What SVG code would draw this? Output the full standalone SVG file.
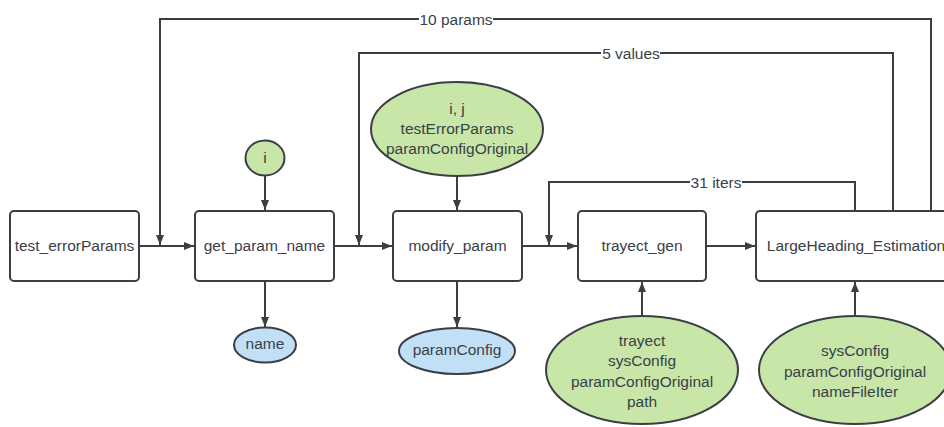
<svg xmlns="http://www.w3.org/2000/svg" width="944" height="427" viewBox="0 0 944 427">
<style>
.box{fill:#ffffff;stroke:#3b3f45;stroke-width:2}
.green{fill:#c7e6a7;stroke:#3b3f45;stroke-width:2}
.blue{fill:#c1e0f6;stroke:#3b3f45;stroke-width:2}
.t{font-family:"Liberation Sans",Arial,sans-serif;font-size:15.5px;fill:#3a404a;text-anchor:middle;dominant-baseline:central}
.c{fill:none;stroke:#3b3f45;stroke-width:2}
.lbl{fill:#ffffff}
</style>
<defs>
<marker id="ah" viewBox="0 0 10 10" refX="10" refY="5" markerWidth="10" markerHeight="10" markerUnits="userSpaceOnUse" orient="auto">
<path d="M0,1 L10,5 L0,9 Z" fill="#3b3f45"/>
</marker>
</defs>
<rect width="944" height="427" fill="#ffffff"/>
<g id="connectors">
<path class="c" d="M931,211 V19 H160 V245" marker-end="url(#ah)"/>
<path class="c" d="M893,211 V53 H359 V245" marker-end="url(#ah)"/>
<path class="c" d="M855,211 V182 H549 V245" marker-end="url(#ah)"/>
<path class="c" d="M139,246 H194" marker-end="url(#ah)"/>
<path class="c" d="M334,246 H392" marker-end="url(#ah)"/>
<path class="c" d="M522,246 H577" marker-end="url(#ah)"/>
<path class="c" d="M706,246 H755" marker-end="url(#ah)"/>
<path class="c" d="M265,176 V210" marker-end="url(#ah)"/>
<path class="c" d="M457,176 V210" marker-end="url(#ah)"/>
<path class="c" d="M265,281 V327" marker-end="url(#ah)"/>
<path class="c" d="M457,281 V327" marker-end="url(#ah)"/>
<path class="c" d="M642,316 V282" marker-end="url(#ah)"/>
<path class="c" d="M855,316 V282" marker-end="url(#ah)"/>
<rect class="lbl" x="419" y="10" width="74" height="18"/>
<text class="t" x="456" y="19">10 params</text>
<rect class="lbl" x="601" y="44" width="59" height="18"/>
<text class="t" x="631" y="53">5 values</text>
<rect class="lbl" x="690" y="173" width="52" height="18"/>
<text class="t" x="716" y="182">31 iters</text>
</g>
<g id="test_errorParams">
<rect class="box" x="10" y="211" width="129" height="70" rx="4"/>
<text class="t" x="74.5" y="245">test_errorParams</text>
</g>
<g id="get_param_name">
<rect class="box" x="195" y="211" width="139" height="70" rx="4"/>
<text class="t" x="264.5" y="245">get_param_name</text>
</g>
<g id="modify_param">
<rect class="box" x="393" y="211" width="129" height="70" rx="4"/>
<text class="t" x="457.5" y="245">modify_param</text>
</g>
<g id="trayect_gen">
<rect class="box" x="578" y="211" width="128" height="70" rx="4"/>
<text class="t" x="642" y="245">trayect_gen</text>
</g>
<g id="LargeHeading_Estimation">
<rect class="box" x="756" y="211" width="200" height="70" rx="4"/>
<text class="t" x="856" y="245">LargeHeading_Estimation</text>
</g>
<g id="i">
<ellipse class="green" cx="265" cy="158" rx="19.5" ry="17.5"/>
<text class="t" x="265" y="157">i</text>
</g>
<g id="ij">
<ellipse class="green" cx="457" cy="129" rx="86" ry="47"/>
<text class="t" x="457" y="108">i, j</text>
<text class="t" x="457" y="128">testErrorParams</text>
<text class="t" x="457" y="148">paramConfigOriginal</text>
</g>
<g id="name">
<ellipse class="blue" cx="265" cy="345" rx="31" ry="17.5"/>
<text class="t" x="265" y="343">name</text>
</g>
<g id="paramConfig">
<ellipse class="blue" cx="457" cy="351" rx="58" ry="23"/>
<text class="t" x="457" y="349">paramConfig</text>
</g>
<g id="trayect">
<ellipse class="green" cx="642" cy="370" rx="96" ry="54"/>
<text class="t" x="642" y="340">trayect</text>
<text class="t" x="642" y="360.5">sysConfig</text>
<text class="t" x="642" y="381">paramConfigOriginal</text>
<text class="t" x="642" y="401">path</text>
</g>
<g id="sysConfig">
<ellipse class="green" cx="855" cy="370" rx="96" ry="54"/>
<text class="t" x="855" y="350.5">sysConfig</text>
<text class="t" x="855" y="371">paramConfigOriginal</text>
<text class="t" x="855" y="391">nameFileIter</text>
</g>
</svg>
